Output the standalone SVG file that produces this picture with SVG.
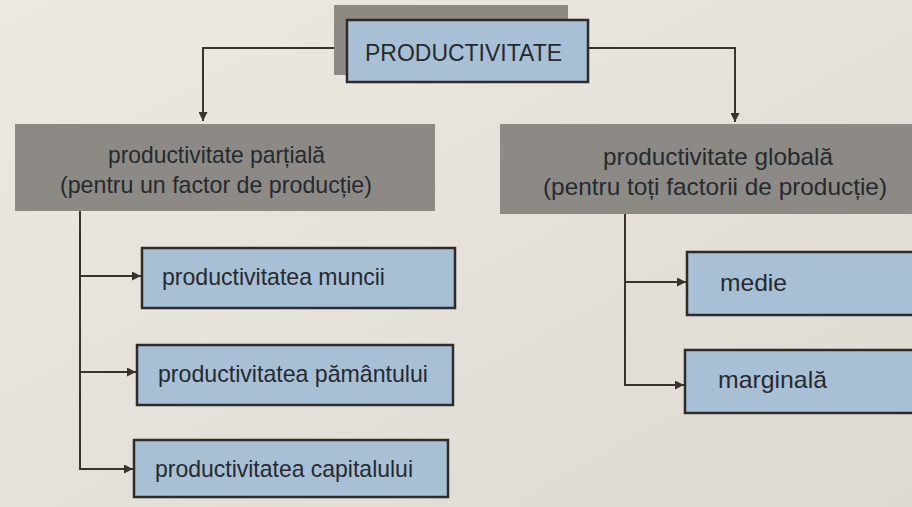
<svg xmlns="http://www.w3.org/2000/svg" width="912" height="507" viewBox="0 0 912 507">
<defs>
<marker id="ah" viewBox="0 0 10 10" refX="10" refY="5" markerWidth="9" markerHeight="9" markerUnits="userSpaceOnUse" orient="auto"><path d="M0,0 L10,5 L0,10 z" fill="#3a332d"/></marker>
<linearGradient id="bg" x1="0" y1="0" x2="1" y2="1"><stop offset="0" stop-color="#ece9e3"/><stop offset="1" stop-color="#dedad2"/></linearGradient>
</defs>
<style>
.blue{fill:#a8c0d6;stroke:#2f2b28;stroke-width:2.5}
.gray{fill:#8d8a85}
.t{font-family:"Liberation Sans",Arial,sans-serif;font-size:24px;fill:#262a2e}
.c{text-anchor:middle}
.ln{fill:none;stroke:#3a332d;stroke-width:2}
</style>
<rect width="912" height="507" fill="url(#bg)"/>
<g id="connectors">
<path class="ln" d="M347,48 H203 V121" marker-end="url(#ah)"/>
<path class="ln" d="M588,48 H735 V122" marker-end="url(#ah)"/>
<path class="ln" d="M80,211 V469 H134"/>
<path class="ln" d="M80,276 H141" marker-end="url(#ah)"/>
<path class="ln" d="M80,372 H136" marker-end="url(#ah)"/>
<path class="ln" d="M80,469 H133" marker-end="url(#ah)"/>
<path class="ln" d="M625,213 V385 H684"/>
<path class="ln" d="M625,282 H686" marker-end="url(#ah)"/>
<path class="ln" d="M625,385 H684" marker-end="url(#ah)"/>
</g>
<g id="productivitate">
<rect class="gray" x="334" y="5" width="234" height="70"/>
<rect class="blue" x="347" y="20" width="241" height="62"/>
<text class="t" x="365" y="61" textLength="197" lengthAdjust="spacingAndGlyphs">PRODUCTIVITATE</text>
</g>
<g id="partiala">
<rect class="gray" x="15" y="124" width="420" height="87"/>
<text class="t" x="108" y="163" textLength="217" lengthAdjust="spacingAndGlyphs">productivitate parțială</text>
<text class="t" x="60" y="193" textLength="312" lengthAdjust="spacingAndGlyphs">(pentru un factor de producție)</text>
</g>
<g id="globala">
<rect class="gray" x="500" y="124" width="412" height="90"/>
<text class="t" x="603" y="165" textLength="230" lengthAdjust="spacingAndGlyphs">productivitate globală</text>
<text class="t" x="543" y="195" textLength="344" lengthAdjust="spacingAndGlyphs">(pentru toți factorii de producție)</text>
</g>
<g id="muncii">
<rect class="blue" x="142" y="248" width="313" height="60"/>
<text class="t" x="162" y="285" textLength="223" lengthAdjust="spacingAndGlyphs">productivitatea muncii</text>
</g>
<g id="pamantului">
<rect class="blue" x="137" y="345" width="316" height="60"/>
<text class="t" x="158" y="382" textLength="270" lengthAdjust="spacingAndGlyphs">productivitatea pământului</text>
</g>
<g id="capitalului">
<rect class="blue" x="134" y="440" width="314" height="57"/>
<text class="t" x="155" y="477" textLength="258" lengthAdjust="spacingAndGlyphs">productivitatea capitalului</text>
</g>
<g id="medie">
<rect class="blue" x="687" y="252" width="228" height="63"/>
<text class="t" x="720" y="291" textLength="67" lengthAdjust="spacingAndGlyphs">medie</text>
</g>
<g id="marginala">
<rect class="blue" x="685" y="350" width="230" height="63"/>
<text class="t" x="718" y="388" textLength="109" lengthAdjust="spacingAndGlyphs">marginală</text>
</g>
</svg>
